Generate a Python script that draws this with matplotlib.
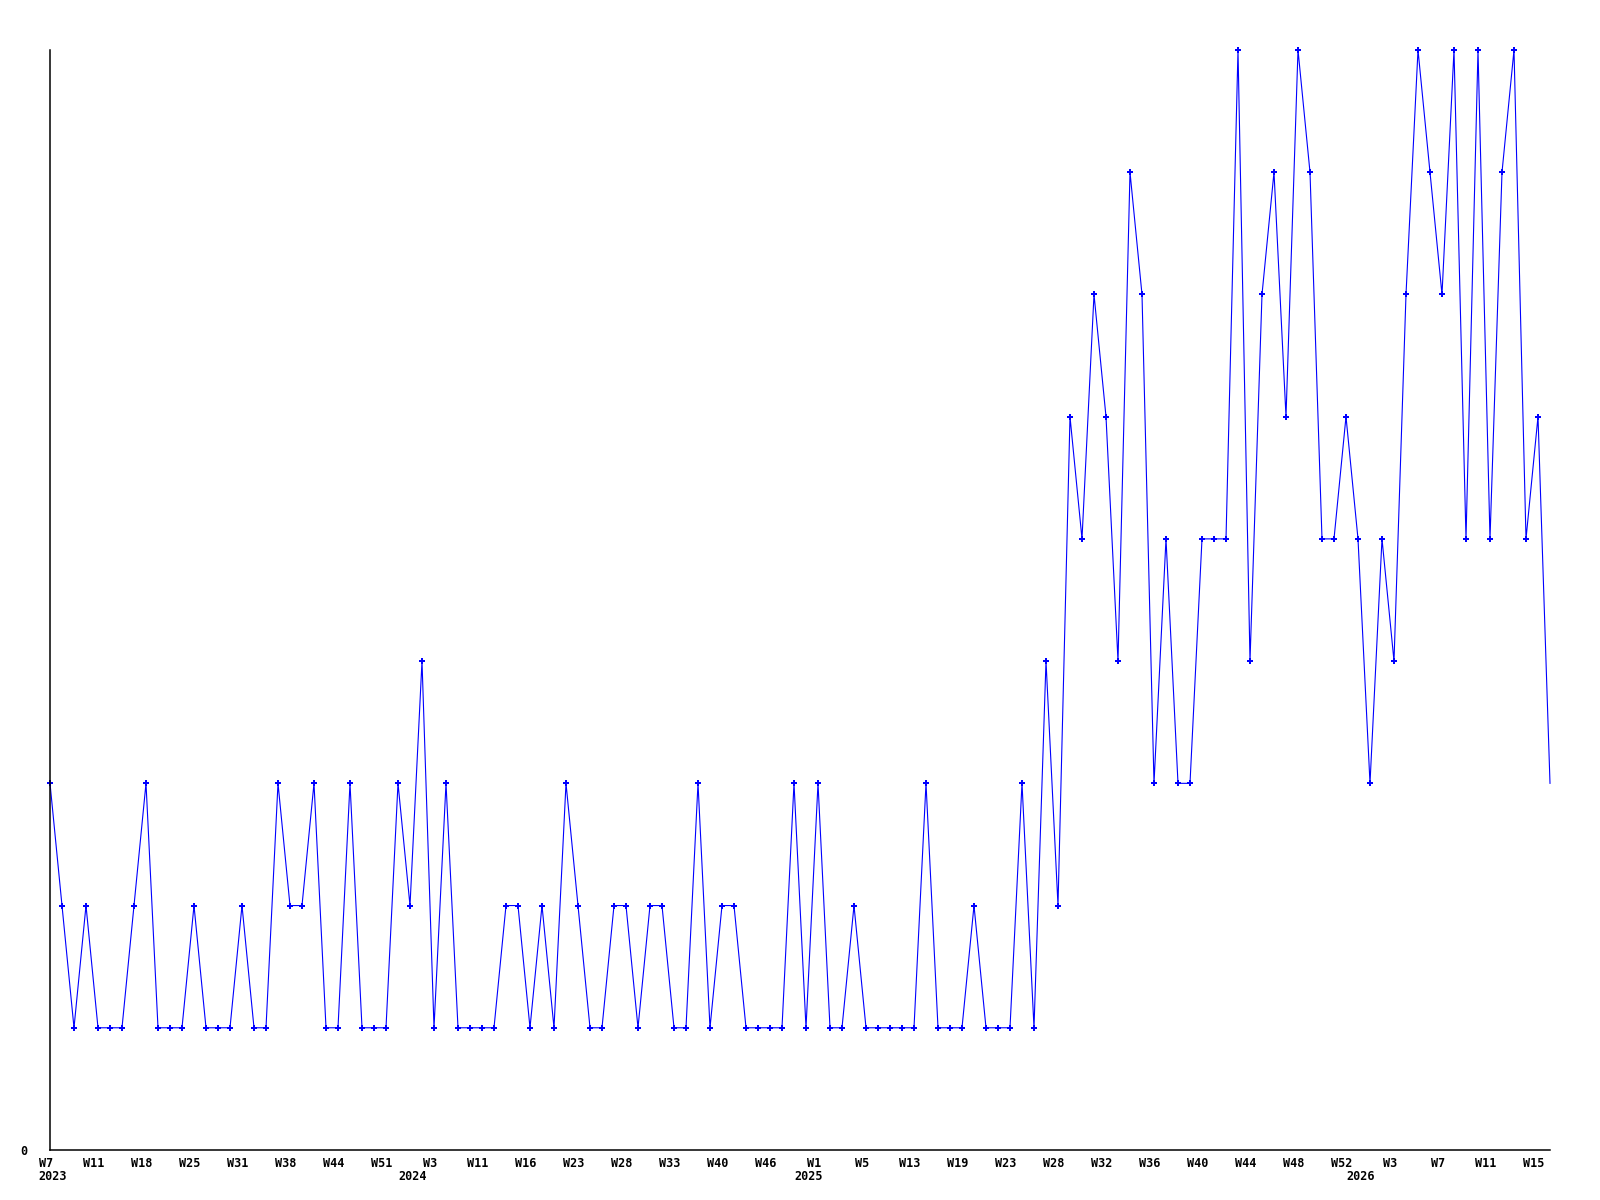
import matplotlib
matplotlib.use('Agg')
import matplotlib.pyplot as plt
import matplotlib.transforms as mtransforms

# weekly counts, one per point
values = [
    3, 2, 1, 2, 1, 1, 1, 2, 3, 1,
    1, 1, 2, 1, 1, 1, 2, 1, 1, 3,
    2, 2, 3, 1, 1, 3, 1, 1, 1, 3,
    2, 4, 1, 3, 1, 1, 1, 1, 2, 2,
    1, 2, 1, 3, 2, 1, 1, 2, 2, 1,
    2, 2, 1, 1, 3, 1, 2, 2, 1, 1,
    1, 1, 3, 1, 3, 1, 1, 2, 1, 1,
    1, 1, 1, 3, 1, 1, 1, 2, 1, 1,
    1, 3, 1, 4, 2, 6, 5, 7, 6, 4,
    8, 7, 3, 5, 3, 3, 5, 5, 5, 9,
    4, 7, 8, 6, 9, 8, 5, 5, 6, 5,
    3, 5, 4, 7, 9, 8, 7, 9, 5, 9,
    5, 8, 9, 5, 6, 3,
]

# week label shown on every 4th point
week_labels = ['W7', 'W11', 'W18', 'W25', 'W31', 'W38', 'W44', 'W51',
               'W3', 'W11', 'W16', 'W23', 'W28', 'W33', 'W40', 'W46',
               'W1', 'W5', 'W13', 'W19', 'W23', 'W28', 'W32', 'W36',
               'W40', 'W44', 'W48', 'W52', 'W3', 'W7', 'W11', 'W15']

# year labels and the point where each year starts
years = ['2023', '2024', '2025', '2026']
year_start = [0, 30, 63, 109]

x = list(range(len(values)))

fig = plt.figure(figsize=(16, 12), dpi=100)
ax = fig.add_axes([50 / 1600, 50 / 1200, 1500 / 1600, 1100 / 1200])

# last point is drawn without a marker
ax.plot(x, values, color='#0000ff', linewidth=0.8, marker='P', markersize=4,
        markeredgewidth=0, markevery=list(range(len(values) - 1)), clip_on=False)

ax.set_xlim(0, len(values) - 1)
ax.set_ylim(0, 9)

for side in ['top', 'right']:
    ax.spines[side].set_visible(False)
for side in ['left', 'bottom']:
    ax.spines[side].set_linewidth(1.1)
    ax.spines[side].set_color('black')

font = dict(family='DejaVu Sans Mono', weight='bold', size=8.5)

ax.set_yticks([0])
ax.set_yticklabels(['0'], fontdict=font)
ax.tick_params(axis='y', length=0, pad=16)

shift = mtransforms.ScaledTranslation(-4 / 100, 0, fig.dpi_scale_trans)
ax.set_xticks(x[::4])
ax.set_xticklabels(week_labels, fontdict=font)
ax.tick_params(axis='x', length=0, pad=5)
for lbl in ax.get_xticklabels():
    lbl.set_transform(lbl.get_transform() + shift)

trans = mtransforms.blended_transform_factory(ax.transData, ax.transAxes)
for yr, pos in zip(years, year_start):
    ax.text(pos, -27 / 1100, yr, transform=trans + mtransforms.ScaledTranslation(3 / 100, 0, fig.dpi_scale_trans),
            ha='center', va='center', **font)

plt.savefig('out.png', dpi=100)
